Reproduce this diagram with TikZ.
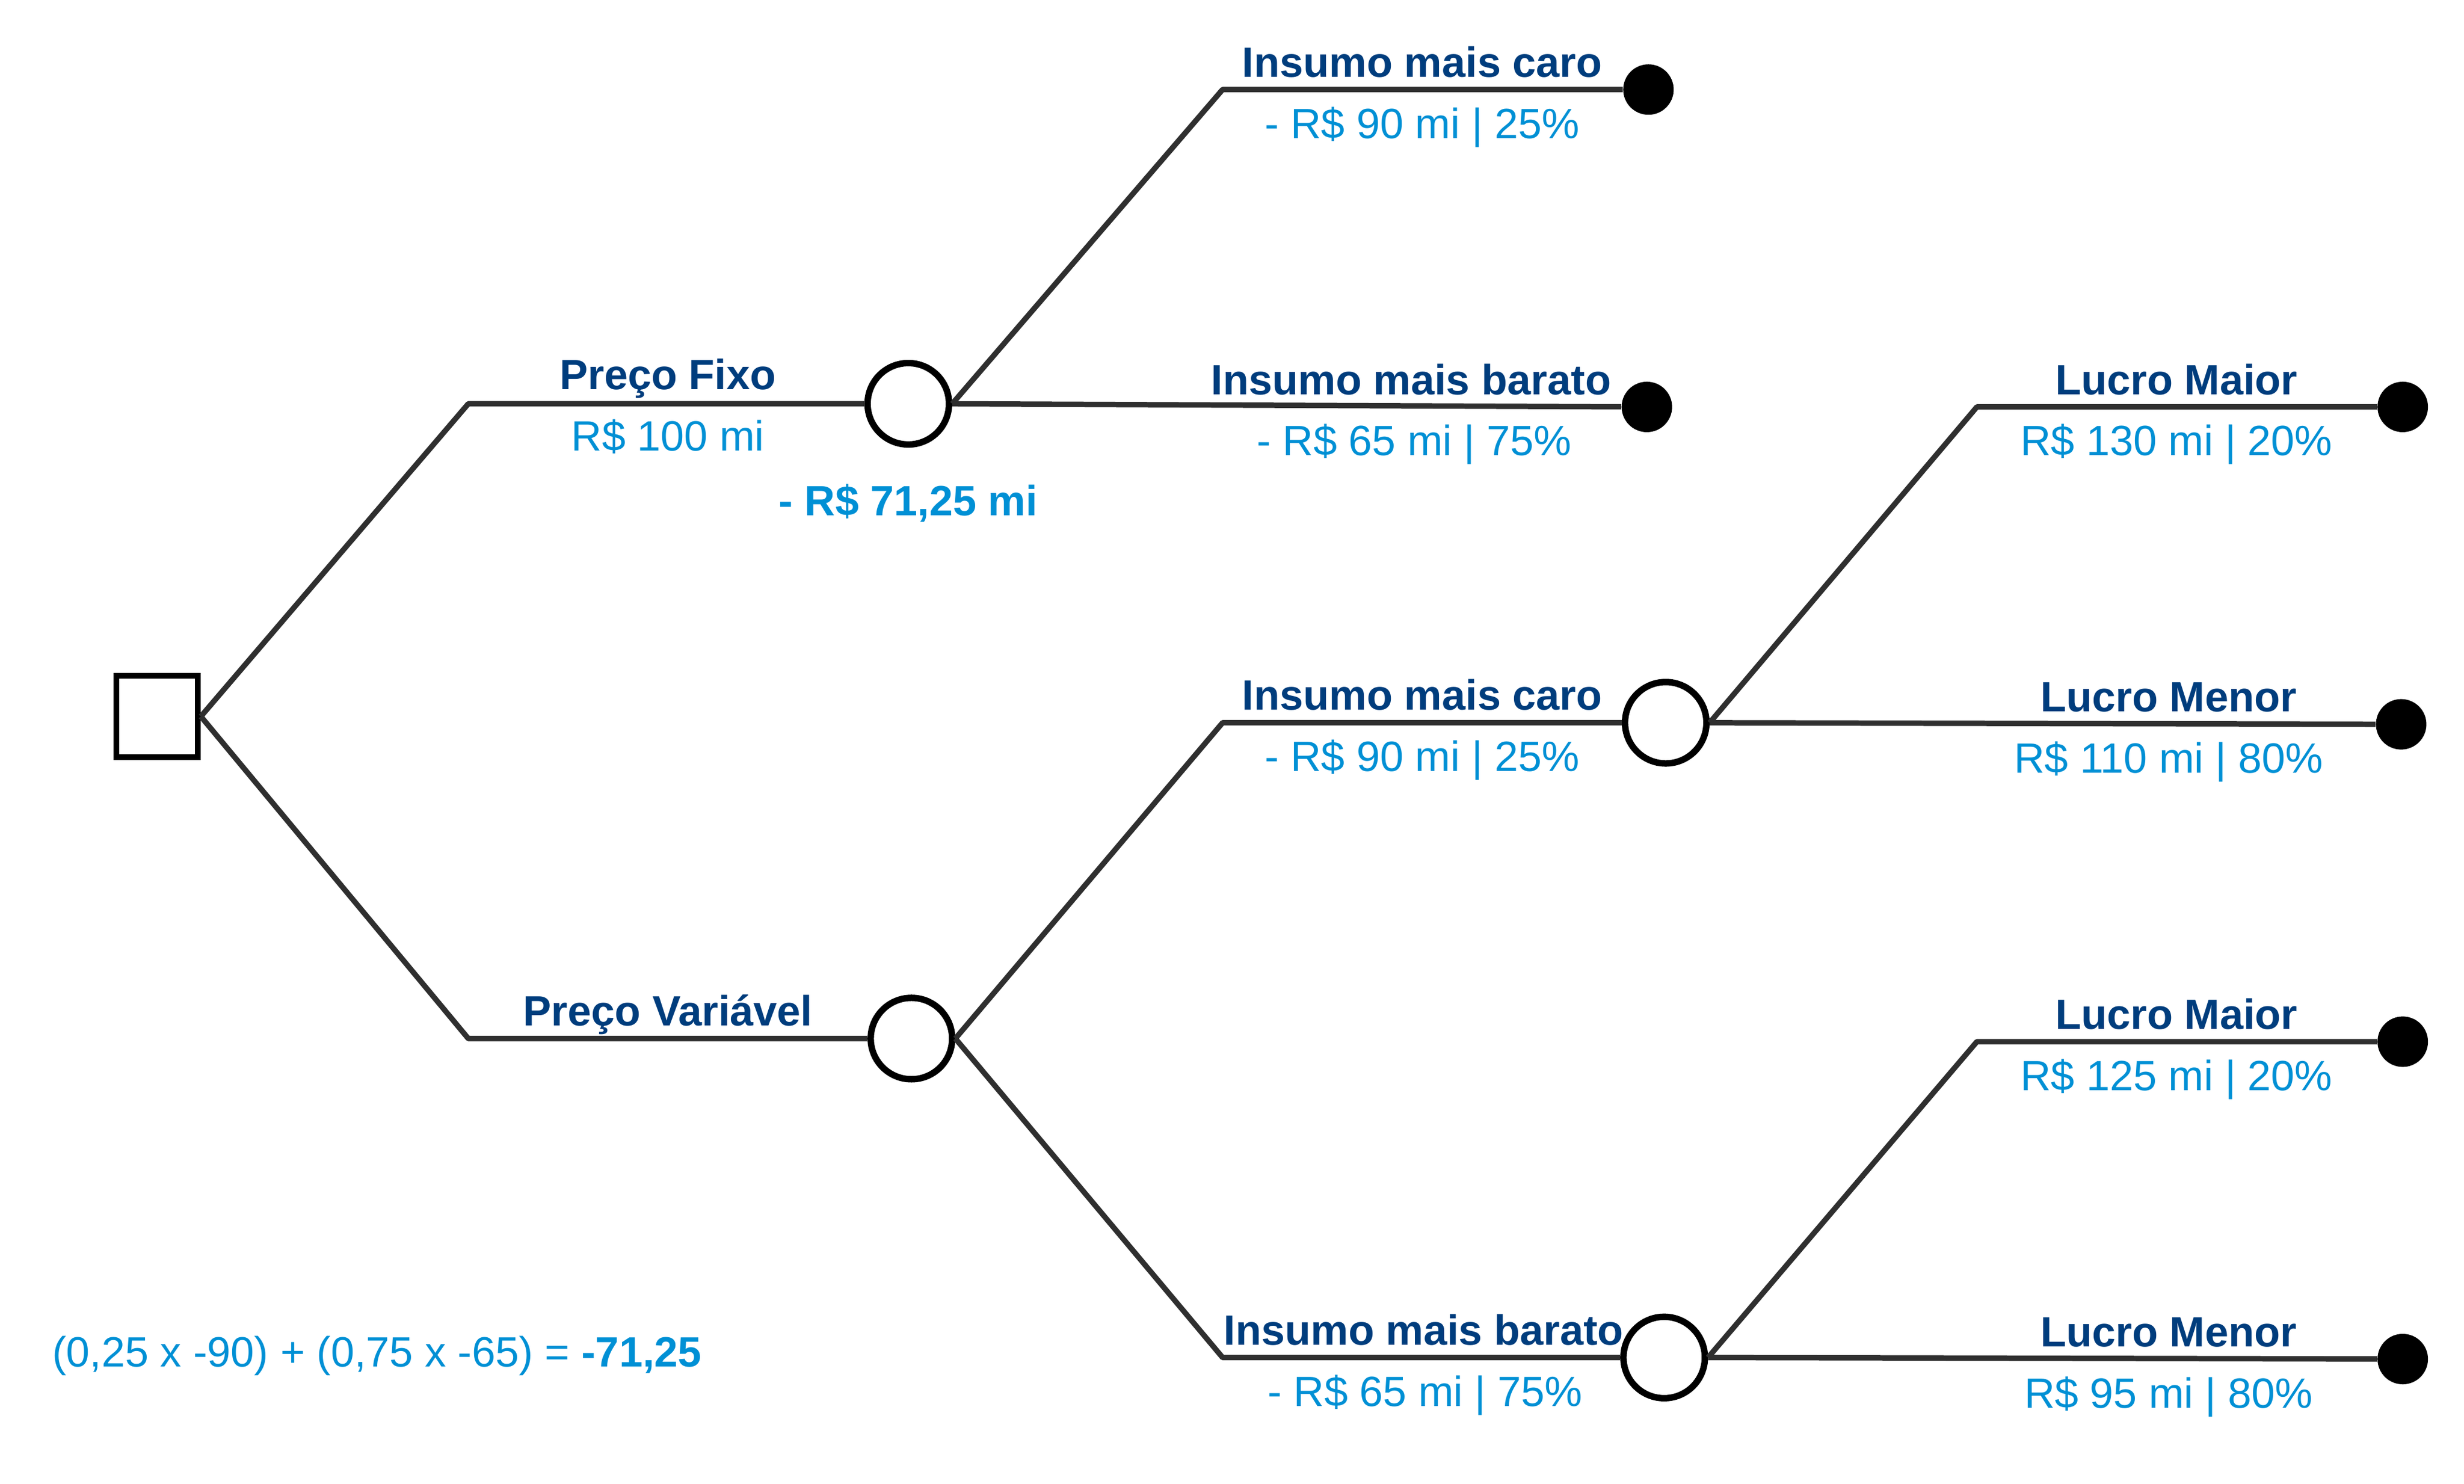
\documentclass[tikz,border=0pt]{standalone}
\usepackage{fontspec}
\setmainfont{Liberation Sans}
\usepackage{xcolor}
\usetikzlibrary{shapes.geometric}
\definecolor{titleblue}{RGB}{0,61,125}
\definecolor{valueblue}{RGB}{0,144,213}
\definecolor{linegray}{RGB}{47,47,47}
\tikzstyle{decision} = [rectangle, minimum size=1.42cm, draw=black, line width=3pt, inner sep=0pt]
\tikzstyle{chance} = [circle, minimum size=1.42cm, draw=black, line width=3.2pt, fill=white, inner sep=0pt]
\tikzstyle{outcome} = [circle, minimum size=0.88cm, fill=black, inner sep=0pt]
\tikzstyle{branch} = [line width=2.7pt, draw=linegray, line join=round]
\tikzstyle{title} = [anchor=base, inner sep=0pt, text=titleblue, font=\fontsize{21}{25}\selectfont\bfseries]
\tikzstyle{value} = [anchor=base, inner sep=0pt, text=valueblue, font=\fontsize{21}{25}\selectfont]

\begin{document}
\begin{tikzpicture}[x=0.02741cm, y=-0.02741cm]
\useasboundingbox (0,0) rectangle (1568,944.5);

% Nodes
\node (root) [decision] at (100,456) {};
\node (cFixo) [chance] at (578,257) {};
\node (cVar) [chance] at (580,661) {};
\node (cCaro) [chance] at (1060,460) {};
\node (cBarato) [chance] at (1059,864) {};

\node (tCaro1) [outcome] at (1049,57) {};
\node (tBarato1) [outcome] at (1048,259) {};
\node (tMaior1) [outcome] at (1529,259) {};
\node (tMenor1) [outcome] at (1528,461) {};
\node (tMaior2) [outcome] at (1529,663) {};
\node (tMenor2) [outcome] at (1529,865) {};

\coordinate (kFixo) at (298,257);
\coordinate (kVar) at (298,661);
\coordinate (kCaro1) at (778,57);
\coordinate (kCaro2) at (778,460);
\coordinate (kBarato2) at (778,864);
\coordinate (kMaior1) at (1258,259);
\coordinate (kMaior2) at (1258,663);

% Branches
\draw [branch] (root.east) -- (kFixo) -- (cFixo);
\draw [branch] (root.east) -- (kVar) -- (cVar);
\draw [branch] (cFixo.east) -- (kCaro1) -- (tCaro1);
\draw [branch] (cFixo.east) -- (tBarato1);
\draw [branch] (cVar.east) -- (kCaro2) -- (cCaro);
\draw [branch] (cVar.east) -- (kBarato2) -- (cBarato);
\draw [branch] (cCaro.east) -- (kMaior1) -- (tMaior1);
\draw [branch] (cCaro.east) -- (tMenor1);
\draw [branch] (cBarato.east) -- (kMaior2) -- (tMaior2);
\draw [branch] (cBarato.east) -- (tMenor2);

% Labels
\node (lFixo) [title] at (425,248) {Preço Fixo};
\node (vFixo) [value] at (425,287) {R\$ 100 mi};
\node (lVar) [title] at (425,653) {Preço Variável};
\node (eFixo) [value, font=\fontsize{21}{25}\selectfont\bfseries] at (578,328) {- R\$ 71,25 mi};

\node (lCaro1) [title] at (905,49) {Insumo mais caro};
\node (vCaro1) [value] at (905,88) {- R\$ 90 mi | 25\%};
\node (lBarato1) [title] at (898,251) {Insumo mais barato};
\node (vBarato1) [value] at (900,290) {- R\$ 65 mi | 75\%};
\node (lCaro2) [title] at (905,452) {Insumo mais caro};
\node (vCaro2) [value] at (905,491) {- R\$ 90 mi | 25\%};
\node (lBarato2) [title] at (906,856) {Insumo mais barato};
\node (vBarato2) [value] at (907,895) {- R\$ 65 mi | 75\%};

\node (lMaior1) [title] at (1385,251) {Lucro Maior};
\node (vMaior1) [value] at (1385,290) {R\$ 130 mi | 20\%};
\node (lMenor1) [title] at (1380,453) {Lucro Menor};
\node (vMenor1) [value] at (1380,492) {R\$ 110 mi | 80\%};
\node (lMaior2) [title] at (1385,655) {Lucro Maior};
\node (vMaior2) [value] at (1385,694) {R\$ 125 mi | 20\%};
\node (lMenor2) [title] at (1380,857) {Lucro Menor};
\node (vMenor2) [value] at (1380,896) {R\$ 95 mi | 80\%};

\node (calc) [value, anchor=base west] at (33,870) {(0,25 x -90) + (0,75 x -65) = \textbf{-71,25}};

\end{tikzpicture}
\end{document}
